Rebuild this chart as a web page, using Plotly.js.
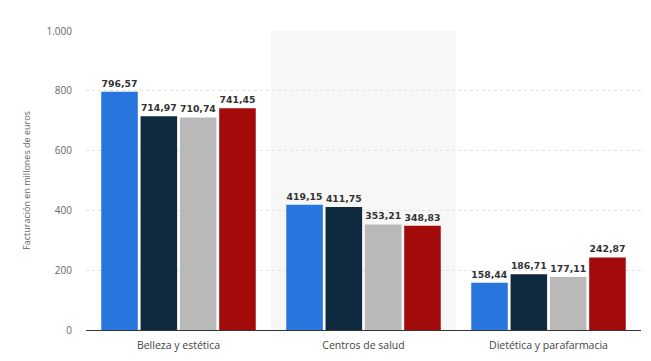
<!DOCTYPE html>
<html><head><meta charset="utf-8">
<script src="https://cdn.plot.ly/plotly-3.0.1.min.js"></script>
<style>html,body{margin:0;padding:0;background:#fff}#chart{width:651px;height:361px}</style>
</head><body><div id="chart"></div>
<script>
const categories = ["Belleza y estética", "Centros de salud", "Dietética y parafarmacia"];
const seriesNames = ["Serie 1", "Serie 2", "Serie 3", "Serie 4"];
const serie1 = [796.57, 419.15, 158.44];
const serie2 = [714.97, 411.75, 186.71];
const serie3 = [710.74, 353.21, 177.11];
const serie4 = [741.45, 348.83, 242.87];
const yTickVals = [0, 200, 400, 600, 800, 1000];
const yTickText = ["0", "200", "400", "600", "800", "1.000"];
const colors = ["#2876dd", "#0f2a3f", "#b9b9b9", "#a30b0b"];

const allSeries = [serie1, serie2, serie3, serie4];
const fmt = v => v.toFixed(2).replace('.', ',');
const traces = allSeries.map((vals, i) => ({
  type: 'bar',
  name: seriesNames[i],
  x: categories,
  y: vals,
  marker: {color: colors[i]},
  text: vals.map(fmt),
  textposition: 'outside',
  cliponaxis: false,
  textfont: {family: 'DejaVu Sans, sans-serif', size: 9.3, color: '#333', weight: 'bold'},
  hoverinfo: 'skip'
}));

const layout = {
  width: 651, height: 361,
  margin: {l: 86, r: 10, t: 31, b: 31},
  paper_bgcolor: '#fff', plot_bgcolor: '#fff',
  showlegend: false,
  barmode: 'group',
  bargap: 0.15,
  bargroupgap: 0.07,
  separators: ',.',
  font: {family: 'Open Sans, sans-serif', color: '#555'},
  shapes: [{type: 'rect', xref: 'x', yref: 'paper', x0: 0.5, x1: 1.5, y0: 0, y1: 1,
            fillcolor: '#f7f7f7', line: {width: 0}, layer: 'below'}],
  xaxis: {
    type: 'category',
    range: [-0.5, 2.5],
    showgrid: false,
    showline: true, linecolor: '#333', linewidth: 1,
    ticks: '', ticklabelstandoff: 5,
    tickfont: {size: 10.5, color: '#444'},
    fixedrange: true
  },
  yaxis: {
    range: [0, 1000],
    tickvals: yTickVals, ticktext: yTickText,
    showgrid: true, gridcolor: '#e2e2e2', griddash: 'dot', gridwidth: 1,
    zeroline: false,
    ticks: '', ticklabelstandoff: 13,
    tickfont: {size: 10, color: '#666'},
    title: {text: 'Facturación en millones de euros', font: {size: 9, color: '#666'}, standoff: 14},
    fixedrange: true
  }
};
Plotly.newPlot('chart', traces, layout, {displayModeBar: false, staticPlot: true});
</script></body></html>
